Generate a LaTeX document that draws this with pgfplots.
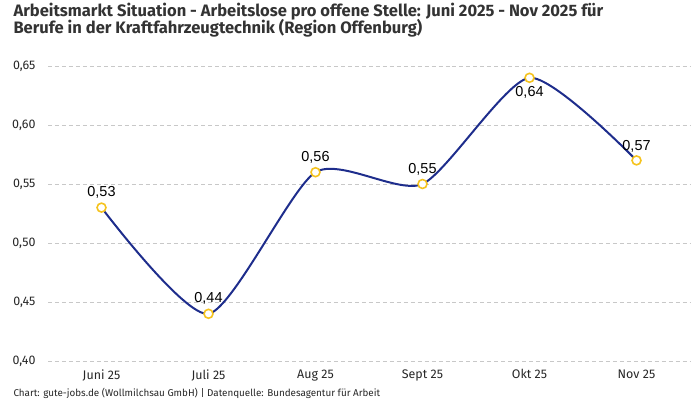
\documentclass[border=0pt]{standalone}
\usepackage{fontspec}
\usepackage{pgfplots}
\pgfplotsset{compat=1.18}
\setmainfont{Fira Sans}
\newfontfamily\labelfont{Liberation Sans}
\definecolor{linecol}{RGB}{30,45,140}
\definecolor{markcol}{RGB}{245,195,30}
\definecolor{titlecol}{RGB}{51,51,51}
\definecolor{gridcol}{RGB}{200,200,200}

\pgfplotstableread{
x y dy
0 0.53 15
1 0.44 15
2 0.56 15
3 0.55 15
4 0.64 -15
5 0.57 14
}\quoten

\begin{document}
\begin{tikzpicture}[x=1bp,y=1bp]
\useasboundingbox (0,0) rectangle (700,400);
\node[anchor=base west, text=titlecol, font=\fontsize{16.6}{17}\selectfont\bfseries]
  at (10,384) {Arbeitsmarkt Situation - Arbeitslose pro offene Stelle: Juni 2025 - Nov 2025 für};
\node[anchor=base west, text=titlecol, font=\fontsize{16.6}{17}\selectfont\bfseries]
  at (10,367) {Berufe in der Kraftfahrzeugtechnik (Region Offenburg)};
\node[anchor=base west, text=black!85, font=\fontsize{9.9}{11}\selectfont]
  at (10,4) {Chart: gute-jobs.de (Wollmilchsau GmbH) | Datenquelle: Bundesagentur für Arbeit};
\begin{axis}[
    at={(48bp,39bp)}, anchor=south west,
    scale only axis,
    width=642bp, height=295bp,
    xmin=-0.5, xmax=5.5,
    ymin=0.40, ymax=0.65,
    axis line style={draw=none},
    clip=false,
    xtick={0,1,2,3,4,5},
    xticklabels={Juni 25,Juli 25,Aug 25,Sept 25,Okt 25,Nov 25},
    ytick={0.40,0.45,0.50,0.55,0.60,0.65},
    /pgf/number format/assume math mode=true,
    /pgf/number format/use comma,
    /pgf/number format/fixed,
    /pgf/number format/fixed zerofill,
    /pgf/number format/precision=2,
    ymajorgrids,
    major grid style={gridcol, dash pattern=on 4pt off 3pt, line width=0.7pt},
    tick style={draw=none},
    xticklabel style={font=\fontsize{12.5}{14}\selectfont, text=black!85, yshift=-5bp},
    yticklabel style={font=\fontsize{12.5}{14}\selectfont, text=black!85, anchor=east, xshift=-9bp},
]
\addplot[linecol, line width=2pt, smooth, tension=0.4] table[x=x,y=y] {\quoten};
\addplot[only marks, mark=*, mark size=4.5pt,
    mark options={draw=markcol, fill=white, line width=1.6pt},
    visualization depends on={\thisrow{dy} \as \dy},
    nodes near coords,
    point meta=explicit,
    nodes near coords style={anchor=center, yshift=\dy bp,
      font=\labelfont\fontsize{14.5}{16}\selectfont, text=black},
] table[x=x,y=y,meta=y] {\quoten};
\end{axis}
\end{tikzpicture}
\end{document}
